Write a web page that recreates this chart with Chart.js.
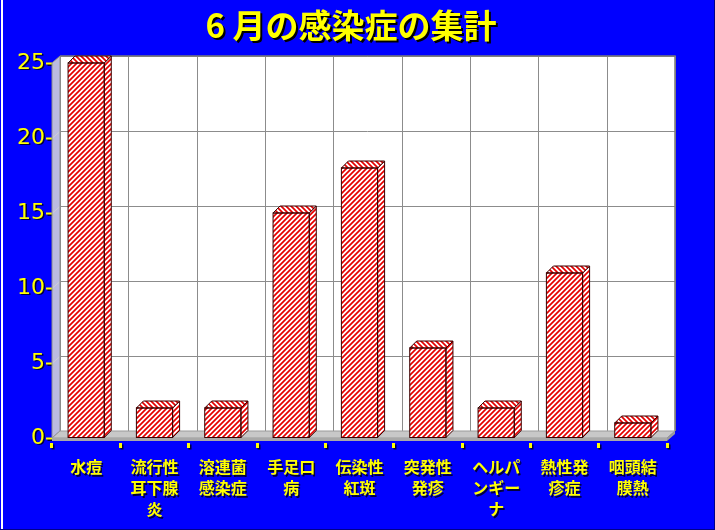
<!DOCTYPE html>
<html><head><meta charset="utf-8">
<script src="https://cdn.jsdelivr.net/npm/chart.js@4.4.0/dist/chart.umd.min.js"></script>
<style>html,body{margin:0;padding:0;background:#0000ff;overflow:hidden}#wrap{width:715px;height:530px;position:relative}</style>
</head><body><div id="wrap"><canvas id="c" width="715" height="530"></canvas></div>
<script>
const titleText = '6 月の感染症の集計';
const categories = [['水痘'], ['流行性', '耳下腺', '炎'], ['溶連菌', '感染症'], ['手足口', '病'], ['伝染性', '紅斑'], ['突発性', '発疹'], ['ヘルパ', 'ンギー', 'ナ'], ['熱性発', '疹症'], ['咽頭結', '膜熱']];
const cases = [25, 2, 2, 15, 18, 6, 2, 11, 1];
const yTicks = [0, 5, 10, 15, 20, 25];

const BLUE = '#0000ff', YELLOW = '#ffff00';
const WDX = 8, WDY = 7;   // back-wall depth offset
const BD = 7;             // bar depth offset

function makeHatch(dir) {
  const s = 5;
  const c = document.createElement('canvas');
  c.width = s; c.height = s;
  const g = c.getContext('2d');
  g.fillStyle = '#ffffff'; g.fillRect(0, 0, s, s);
  g.strokeStyle = '#e60000'; g.lineWidth = 1.7;
  g.beginPath();
  for (let k = -1; k <= 1; k++) {
    if (dir > 0) { g.moveTo(-1 + k * s, s + 1); g.lineTo(s + 1 + k * s, -1); }
    else { g.moveTo(-1 + k * s, -1); g.lineTo(s + 1 + k * s, s + 1); }
  }
  g.stroke();
  return g.createPattern(c, 'repeat');
}
const ctx0 = document.getElementById('c').getContext('2d');
const hatchFront = makeHatch(1);
const hatchTop = makeHatch(-1);

function poly(ctx, pts, fill, stroke, lw) {
  ctx.beginPath();
  ctx.moveTo(pts[0][0], pts[0][1]);
  for (let i = 1; i < pts.length; i++) ctx.lineTo(pts[i][0], pts[i][1]);
  ctx.closePath();
  if (fill) { ctx.fillStyle = fill; ctx.fill(); }
  if (stroke) { ctx.strokeStyle = stroke; ctx.lineWidth = lw || 1; ctx.stroke(); }
}

const scenePlugin = {
  id: 'scene',
  beforeDraw(chart) {
    const ctx = chart.ctx, W = chart.width, H = chart.height;
    ctx.save();
    ctx.fillStyle = BLUE; ctx.fillRect(0, 0, W, H);
    ctx.fillStyle = '#ffffff'; ctx.fillRect(1, 0, 2, H);
    ctx.fillStyle = '#00008a'; ctx.fillRect(W - 1, 0, 1, H); ctx.fillRect(0, H - 1, W, 1);
    // title
    ctx.font = 'bold 33px "Noto Sans CJK JP", sans-serif';
    ctx.textAlign = 'center'; ctx.textBaseline = 'middle';
    ctx.fillStyle = '#000000';
    ctx.fillText(titleText, 351 + 2, 25 + 2);
    ctx.fillStyle = YELLOW;
    ctx.fillText(titleText, 351, 25);
    ctx.restore();
    // shadow for axis text drawn next
    ctx.shadowColor = 'rgba(0,0,40,0.9)';
    ctx.shadowOffsetX = 1.5; ctx.shadowOffsetY = 1.5; ctx.shadowBlur = 0;
  },
  beforeDatasetsDraw(chart) {
    const ctx = chart.ctx;
    ctx.shadowColor = 'rgba(0,0,0,0)'; ctx.shadowOffsetX = 0; ctx.shadowOffsetY = 0;
    const a = chart.chartArea, x = chart.scales.x, y = chart.scales.y;
    const L = a.left, R = a.right, T = a.top, B = a.bottom;
    ctx.save();
    // back wall
    poly(ctx, [[L + WDX, T - WDY], [R + WDX, T - WDY], [R + WDX, B - WDY], [L + WDX, B - WDY]], '#ffffff', null);
    // grid on back wall
    ctx.strokeStyle = '#8c8c8c'; ctx.lineWidth = 1;
    ctx.beginPath();
    yTicks.forEach(v => {
      const py = Math.round(y.getPixelForValue(v) - WDY) + 0.5;
      ctx.moveTo(L + WDX, py); ctx.lineTo(R + WDX, py);
      ctx.moveTo(L, py + WDY); ctx.lineTo(L + WDX, py);
    });
    for (let i = 0; i <= categories.length; i++) {
      const px = Math.round((i < categories.length ? x.getPixelForValue(i) - x.width / categories.length / 2 : R) + WDX) + 0.5;
      ctx.moveTo(px, T - WDY); ctx.lineTo(px, B - WDY);
    }
    ctx.stroke();
    // left wall
    poly(ctx, [[L, B], [L, T], [L + WDX, T - WDY], [L + WDX, B - WDY]], 'rgba(220,220,220,0.85)', '#8c8c8c', 1);
    // wall outline
    ctx.strokeStyle = '#7a7a7a'; ctx.lineWidth = 1.5;
    ctx.beginPath();
    ctx.moveTo(L + WDX, T - WDY); ctx.lineTo(R + WDX, T - WDY); ctx.lineTo(R + WDX, B - WDY);
    ctx.stroke();
    // floor slab
    const th = 3;
    poly(ctx, [[L, B], [L + WDX, B - WDY], [R + WDX, B - WDY], [R, B]], '#c8c8c8', '#9a9a9a', 1);
    poly(ctx, [[L, B], [R, B], [R, B + th], [L, B + th]], '#a8a8a8', null);
    poly(ctx, [[R, B], [R + WDX, B - WDY], [R + WDX, B - WDY + th], [R, B + th]], '#9a9a9a', null);
    ctx.restore();
  },
  afterDatasetsDraw(chart) {
    const ctx = chart.ctx;
    const meta = chart.getDatasetMeta(0);
    ctx.save();
    meta.data.forEach(bar => {
      const l = bar.x - bar.width / 2, r = bar.x + bar.width / 2, t = bar.y, b = bar.base;
      poly(ctx, [[r, t], [r + BD, t - BD], [r + BD, b - BD], [r, b]], hatchFront, '#3a0000', 1);
      poly(ctx, [[l, t], [l + BD, t - BD], [r + BD, t - BD], [r, t]], hatchTop, '#3a0000', 1);
      ctx.strokeStyle = '#3a0000'; ctx.lineWidth = 1;
      ctx.strokeRect(l, t, r - l, b - t);
    });
    ctx.restore();
  }
};

new Chart(document.getElementById('c'), {
  type: 'bar',
  data: {
    labels: categories,
    datasets: [{
      data: cases,
      backgroundColor: hatchFront,
      borderWidth: 0,
      categoryPercentage: 1.0,
      barPercentage: 0.53,
      clip: false
    }]
  },
  options: {
    responsive: false,
    devicePixelRatio: 1,
    animation: false,
    layout: { padding: { top: 63, right: 48, left: 0, bottom: 0 } },
    plugins: { legend: { display: false }, title: { display: false }, tooltip: { enabled: false } },
    scales: {
      x: {
        border: { display: false },
        grid: { display: true, drawOnChartArea: false, offset: true, tickLength: 10, tickColor: YELLOW, tickWidth: 3, tickBorderDash: [0, 5, 5] },
        ticks: { color: YELLOW, padding: 9, maxRotation: 0, autoSkip: false,
          font: { family: '"Noto Sans CJK JP", sans-serif', size: 16, weight: 'bold', lineHeight: 1.3 } },
        afterFit(s) { s.height = 92; }
      },
      y: {
        min: 0, max: 25,
        border: { display: false },
        afterBuildTicks(s) { s.ticks = yTicks.map(v => ({ value: v })); },
        grid: { display: true, drawOnChartArea: false, tickLength: 6, tickColor: YELLOW, tickWidth: 2 },
        ticks: { color: YELLOW, padding: 1, font: { family: '"DejaVu Sans", sans-serif', size: 22 } },
        afterFit(s) { s.width = 52; }
      }
    }
  },
  plugins: [scenePlugin]
});
</script></body></html>
